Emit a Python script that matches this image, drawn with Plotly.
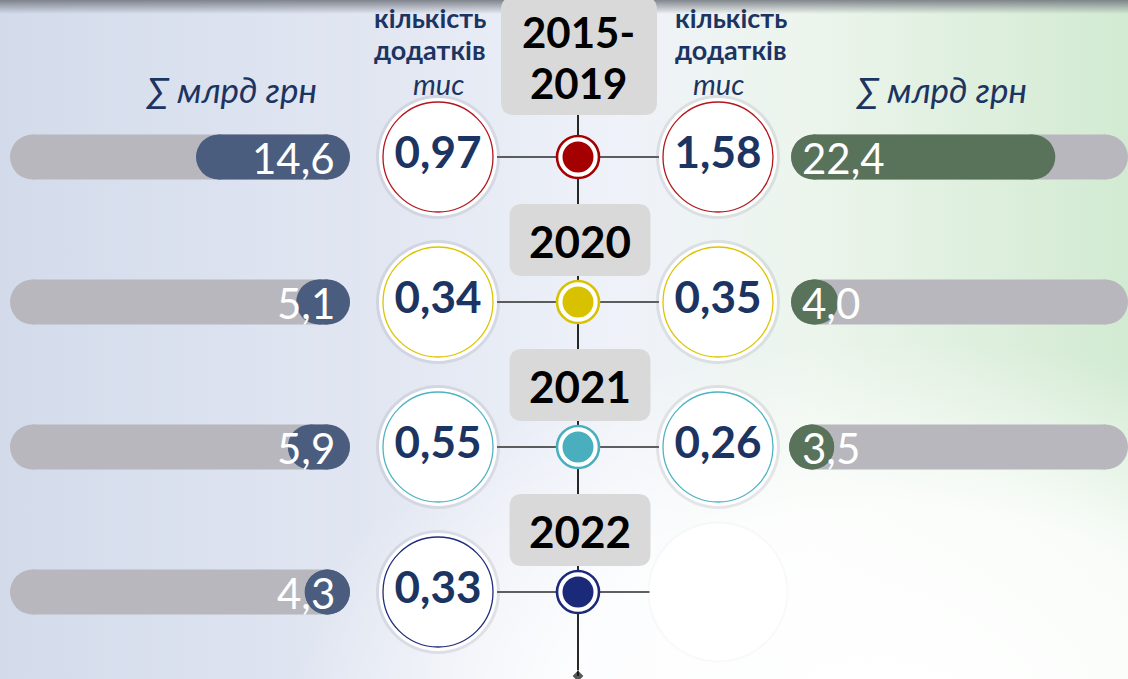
import base64
import plotly.graph_objects as go

# ---------------- data ----------------
periods = ["2015-2019", "2020", "2021", "2022"]
left_sum_bn = [14.6, 5.1, 5.9, 4.3]         # ∑ млрд грн (left side)
left_count_k = [0.97, 0.34, 0.55, 0.33]    # кількість додатків, тис (left side)
right_count_k = [1.58, 0.35, 0.26, None]   # кількість додатків, тис (right side)
right_sum_bn = [22.4, 4.0, 3.5, None]      # ∑ млрд грн (right side)

hdr_count = ["кількість", "додатків"]
hdr_count_unit = "тис"
hdr_sum = "∑ млрд грн"

# ---------------- style ----------------
W, H = 1128, 679
FONT = "Lato, 'Open Sans', sans-serif"
NAVY = "#1c3461"
TRACK = "#b8b7bd"
BLUE = "#4b5d7f"
GREEN = "#58735a"
BOXC = "#d9d9d9"
ring_col = ["#b3161c", "#dcc400", "#4fb3c2", "#1f2d7b"]
dot_col = ["#a50000", "#d8c200", "#49aebd", "#1b2a78"]

ROW0, STEP = 157, 145          # pixel centre of first row, row spacing
X_LC, X_C, X_RC = 438, 578, 718
BAR_H = 45
L_START, L_END = 10, 350
R_START = 791
L_PX, R_PX = 10.55, 11.8       # px per bn UAH on each side

n = len(periods)
rows = list(range(n))
L_MAX = (L_END - L_START) / L_PX
R_MAX = (W - R_START) / R_PX
CAP_L = BAR_H / 2 / L_PX
CAP_R = BAR_H / 2 / R_PX


def fmt2(v):
    return f"{v:.2f}".replace(".", ",")


def fmt1(v):
    return f"{v:.1f}".replace(".", ",")


def ppy(py):
    return 1 - py / H


def pill(values, cap):
    xs, ys = [], []
    for r, v in zip(rows, values):
        if v is None:
            continue
        a, b = cap, v - cap
        if b < a:
            a = b = v / 2
        xs += [a, b, None]
        ys += [r, r, None]
    return xs, ys


def pill_trace(values, cap, color, xaxis):
    xs, ys = pill(values, cap)
    return go.Scatter(x=xs, y=ys, xaxis=xaxis, yaxis="y", mode="lines+markers",
                      line=dict(color=color, width=BAR_H),
                      marker=dict(size=BAR_H, color=color, line=dict(width=0)),
                      hoverinfo="skip", cliponaxis=False, showlegend=False)


def rrect(cx, cy, w, h, r):
    x0, x1 = cx - w / 2, cx + w / 2
    y0, y1 = cy - h / 2, cy + h / 2
    return (f"M{x0 + r},{y0} L{x1 - r},{y0} Q{x1},{y0} {x1},{y0 + r} "
            f"L{x1},{y1 - r} Q{x1},{y1} {x1 - r},{y1} L{x0 + r},{y1} "
            f"Q{x0},{y1} {x0},{y1 - r} L{x0},{y0 + r} Q{x0},{y0} {x0 + r},{y0} Z")


fig = go.Figure()

# ---- bars (left: grows to the left, right: grows to the right) ----
fig.add_trace(pill_trace([L_MAX] * n, CAP_L, TRACK, "x2"))
fig.add_trace(pill_trace(left_sum_bn, CAP_L, BLUE, "x2"))
fig.add_trace(pill_trace([R_MAX if v is not None else None for v in right_sum_bn],
                         CAP_R, TRACK, "x3"))
fig.add_trace(pill_trace(right_sum_bn, CAP_R, GREEN, "x3"))

# ---- connectors and central timeline ----
cx, cy = [], []
for r in rows:
    cx += [X_LC, X_RC, None]
    cy += [r, r, None]
fig.add_trace(go.Scatter(x=cx, y=cy, mode="lines", line=dict(color="#2b2b2b", width=1.6),
                         hoverinfo="skip", showlegend=False))
y_top = (60 - ROW0) / STEP
y_bot = (676 - ROW0) / STEP
fig.add_trace(go.Scatter(x=[X_C, X_C], y=[y_top, y_bot], mode="lines+markers",
                         line=dict(color="#111111", width=1.8),
                         marker=dict(symbol="diamond", size=[0, 9], color="#111111"),
                         hoverinfo="skip", showlegend=False, cliponaxis=False))

# ---- empty placeholder circle where right value is missing ----
miss = [r for r, v in zip(rows, right_count_k) if v is None]
fig.add_trace(go.Scatter(x=[X_RC] * len(miss), y=miss, mode="markers",
                         marker=dict(size=141, color="rgba(140,140,150,0.045)", line=dict(width=0)),
                         hoverinfo="skip", showlegend=False, cliponaxis=False))
fig.add_trace(go.Scatter(x=[X_RC] * len(miss), y=miss, mode="markers",
                         marker=dict(size=137, color="white", line=dict(width=0)),
                         hoverinfo="skip", showlegend=False, cliponaxis=False))

# ---- count circles ----
cxs, cys, cols = [], [], []
for r in rows:
    cxs.append(X_LC); cys.append(r); cols.append(ring_col[r])
    if right_count_k[r] is not None:
        cxs.append(X_RC); cys.append(r); cols.append(ring_col[r])
fig.add_trace(go.Scatter(x=cxs, y=cys, mode="markers",
                         marker=dict(size=124, color="rgba(120,120,135,0.16)", line=dict(width=0)),
                         hoverinfo="skip", showlegend=False, cliponaxis=False))
fig.add_trace(go.Scatter(x=cxs, y=cys, mode="markers",
                         marker=dict(size=118, color="white", line=dict(width=0)),
                         hoverinfo="skip", showlegend=False, cliponaxis=False))
fig.add_trace(go.Scatter(x=cxs, y=cys, mode="markers",
                         marker=dict(size=110, color="white", line=dict(width=1.3, color=cols)),
                         hoverinfo="skip", showlegend=False, cliponaxis=False))

# ---- central dots ----
fig.add_trace(go.Scatter(x=[X_C] * n, y=rows, mode="markers",
                         marker=dict(size=42, color="white", line=dict(width=2.6, color=dot_col)),
                         hoverinfo="skip", showlegend=False, cliponaxis=False))
fig.add_trace(go.Scatter(x=[X_C] * n, y=rows, mode="markers",
                         marker=dict(size=31, color=dot_col, line=dict(width=0)),
                         hoverinfo="skip", showlegend=False, cliponaxis=False))

# ---- counts ----
cnt_font = dict(family=FONT, size=44, color=NAVY, weight="bold")
fig.add_trace(go.Scatter(x=[X_LC] * n, y=rows, mode="text",
                         text=[fmt2(v) for v in left_count_k], textposition="middle center",
                         textfont=cnt_font, hoverinfo="skip", showlegend=False, cliponaxis=False))
rr = [r for r in rows if right_count_k[r] is not None]
fig.add_trace(go.Scatter(x=[X_RC] * len(rr), y=rr, mode="text",
                         text=[fmt2(right_count_k[r]) for r in rr], textposition="middle center",
                         textfont=cnt_font, hoverinfo="skip", showlegend=False, cliponaxis=False))

annotations = []
shapes = []

# ---- bar value labels ----
for r, v in zip(rows, left_sum_bn):
    annotations.append(dict(xref="x2", yref="y", x=0, y=r, xanchor="right", yanchor="middle",
                            xshift=-13, yshift=-1, text=fmt1(v), showarrow=False,
                            font=dict(family=FONT, size=42, color="white")))
for r, v in zip(rows, right_sum_bn):
    if v is None:
        continue
    annotations.append(dict(xref="x3", yref="y", x=0, y=r, xanchor="left", yanchor="middle",
                            xshift=9, yshift=-1, text=fmt1(v), showarrow=False,
                            font=dict(family=FONT, size=42, color="white")))

# ---- period boxes and labels ----
for r, p in zip(rows, periods):
    if "-" in p:
        a, b = p.split("-")
        shapes.append(dict(type="path", xref="x", yref="y", xsizemode="pixel", ysizemode="pixel",
                           xanchor=X_C, yanchor=r, path=rrect(1, 101, 156, 118, 13),
                           fillcolor=BOXC, line=dict(width=0), layer="above"))
        yf = dict(family=FONT, size=42, color="black", weight="bold")
        annotations.append(dict(xref="x", yref="y", x=X_C, y=r, yanchor="middle",
                                yshift=ROW0 - 31.5, text=a + "-", showarrow=False, font=yf))
        annotations.append(dict(xref="x", yref="y", x=X_C, y=r, yanchor="middle",
                                yshift=ROW0 - 82.5, text=b, showarrow=False, font=yf))
    else:
        shapes.append(dict(type="path", xref="x", yref="y", xsizemode="pixel", ysizemode="pixel",
                           xanchor=X_C, yanchor=r, path=rrect(2, 62, 141, 72, 13),
                           fillcolor=BOXC, line=dict(width=0), layer="above"))
        annotations.append(dict(xref="x", yref="y", x=X_C + 2, y=r, yshift=61, text=p,
                                showarrow=False, font=dict(family=FONT, size=44, color="black",
                                                           weight="bold")))

# ---- headers ----
hb = dict(family=FONT, size=27, color=NAVY, weight="bold")
hi = dict(family=FONT, size=29, color=NAVY, style="italic")
for xc, xu in ((430, X_LC), (731, X_RC)):
    annotations.append(dict(xref="x", yref="paper", x=xc, y=ppy(17), yanchor="middle",
                            text=hdr_count[0], showarrow=False, font=hb))
    annotations.append(dict(xref="x", yref="paper", x=xc, y=ppy(49.7), yanchor="middle",
                            text=hdr_count[1], showarrow=False, font=hb))
    annotations.append(dict(xref="x", yref="paper", x=xu, y=ppy(83.5), yanchor="middle",
                            text=hdr_count_unit, showarrow=False, font=hi))
for xc in (231, 941):
    annotations.append(dict(xref="x", yref="paper", x=xc, y=ppy(89), text=hdr_sum,
                            showarrow=False, yanchor="middle",
                            font=dict(family=FONT, size=35, color=NAVY, style="italic")))

# ---- background gradient ----
svg = f"""<svg xmlns="http://www.w3.org/2000/svg" width="{W}" height="{H}" viewBox="0 0 {W} {H}" preserveAspectRatio="none">
<defs>
<linearGradient id="h" x1="0" y1="0" x2="1" y2="0">
<stop offset="0" stop-color="#d3dbeb"/>
<stop offset="0.35" stop-color="#e2e7f2"/>
<stop offset="0.55" stop-color="#eff2f9"/>
<stop offset="0.72" stop-color="#ecf5ec"/>
<stop offset="1" stop-color="#d2ead2"/>
</linearGradient>
<radialGradient id="w" cx="0.8" cy="1.05" r="0.55">
<stop offset="0" stop-color="#ffffff" stop-opacity="1"/>
<stop offset="0.55" stop-color="#ffffff" stop-opacity="0.85"/>
<stop offset="1" stop-color="#ffffff" stop-opacity="0"/>
</radialGradient>
<linearGradient id="t" x1="0" y1="0" x2="0" y2="1">
<stop offset="0" stop-color="#6e727b" stop-opacity="0.85"/>
<stop offset="1" stop-color="#6e727b" stop-opacity="0"/>
</linearGradient>
</defs>
<rect width="{W}" height="{H}" fill="url(#h)"/>
<rect width="{W}" height="{H}" fill="url(#w)"/>
<rect width="{W}" height="14" fill="url(#t)"/>
</svg>"""
bg_uri = "data:image/svg+xml;base64," + base64.b64encode(svg.encode("utf-8")).decode("ascii")

ax_common = dict(visible=False, showgrid=False, zeroline=False, fixedrange=True)
fig.update_layout(
    width=W, height=H, margin=dict(l=0, r=0, t=0, b=0),
    paper_bgcolor="#e9edf5", plot_bgcolor="rgba(0,0,0,0)",
    showlegend=False, hovermode=False,
    xaxis=dict(domain=[0, 1], range=[0, W], anchor="y", **ax_common),
    xaxis2=dict(domain=[L_START / W, L_END / W], range=[L_MAX, 0], anchor="y", **ax_common),
    xaxis3=dict(domain=[R_START / W, 1], range=[0, R_MAX], anchor="y", **ax_common),
    yaxis=dict(domain=[0, 1], range=[(H - ROW0) / STEP, -ROW0 / STEP], anchor="x", **ax_common),
    images=[dict(source=bg_uri, xref="paper", yref="paper", x=0, y=1, sizex=1, sizey=1,
                 xanchor="left", yanchor="top", sizing="stretch", layer="below")],
    shapes=shapes, annotations=annotations,
)

fig.write_html("out.html", config=dict(displayModeBar=False, staticPlot=True),
               post_script="document.body.style.margin='0';document.body.style.overflow='hidden';")
